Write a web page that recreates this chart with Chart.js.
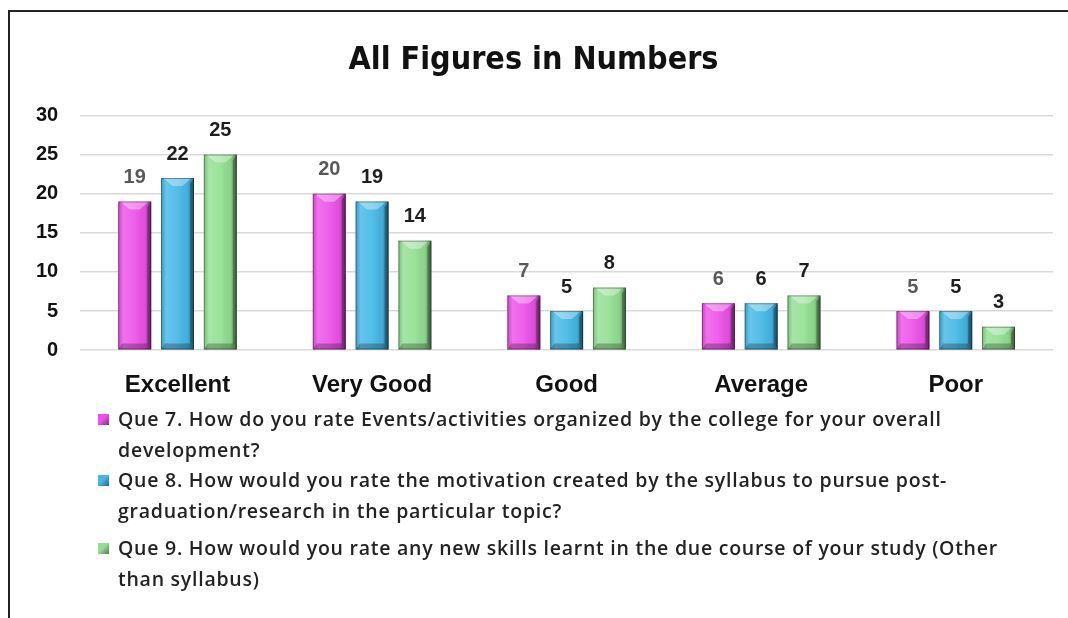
<!DOCTYPE html>
<html>
<head>
<meta charset="utf-8">
<script src="https://cdn.jsdelivr.net/npm/chart.js@4.4.1/dist/chart.umd.min.js"></script>
<style>
  html, body { margin: 0; padding: 0; background: #fff; overflow: hidden; }
  #frame {
    position: absolute; left: 8px; top: 10px; width: 1080px; height: 640px;
    border-top: 2px solid #222; border-left: 2px solid #222;
  }
  #wrap { position: absolute; left: 0; top: 0; width: 1068px; height: 421px; }
  #legend {
    position: absolute; left: 98px; top: 404px; width: 960px;
    font-family: "Open Sans", sans-serif; font-weight: 600; font-size: 19.5px;
    letter-spacing: 0.75px; color: #222; line-height: 30.5px;
  }
  #legend .item { position: relative; padding-left: 20px; white-space: nowrap; }
  #legend .box {
    position: absolute; left: 0; top: 10px; width: 11px; height: 11px;
  }
</style>
</head>
<body>
<div id="frame"></div>
<div id="wrap"><canvas id="chart" width="1068" height="421"></canvas></div>
<div id="legend"></div>
<script>
// ratings and counts per question
const categories = ['Excellent', 'Very Good', 'Good', 'Average', 'Poor'];
const que7 = [19, 20, 7, 6, 5];
const que8 = [22, 19, 5, 6, 5];
const que9 = [25, 14, 8, 7, 3];

const seriesNames = [
    'Que 7. How do you rate Events/activities organized by the college for your overall development?',
    'Que 8. How would you rate the motivation created by the syllabus to pursue post-graduation/research in the particular topic?',
    'Que 9. How would you rate any new skills learnt in the due course of your study (Other than syllabus)'
];
// where each legend entry breaks onto its second line
const legendLines = [
    ['Que 7. How do you rate Events/activities organized by the college for your overall', 'development?'],
    ['Que 8. How would you rate the motivation created by the syllabus to pursue post-', 'graduation/research in the particular topic?'],
    ['Que 9. How would you rate any new skills learnt in the due course of your study (Other', 'than syllabus)']
];
const barColors = ['#ec52e8', '#45b8e6', '#92df92'];
const labelColors = ['#595959', '#1e1e1e', '#1e1e1e'];

// bevelled look on each bar
const bevelPlugin = {
    id: 'bevel',
    afterDatasetsDraw(chart) {
        const ctx = chart.ctx;
        chart.data.datasets.forEach((ds, i) => {
            const meta = chart.getDatasetMeta(i);
            meta.data.forEach((bar) => {
                const l = bar.x - bar.width / 2, r = bar.x + bar.width / 2;
                const t = bar.y, b = bar.base, w = bar.width;
                const h = b - t;
                const bv = Math.min(6, h / 3);
                ctx.save();
                let g = ctx.createLinearGradient(l, 0, r, 0);
                g.addColorStop(0, 'rgba(0,0,0,0.12)');
                g.addColorStop(0.15, 'rgba(255,255,255,0.18)');
                g.addColorStop(0.5, 'rgba(255,255,255,0.08)');
                g.addColorStop(0.8, 'rgba(0,0,0,0.05)');
                g.addColorStop(1, 'rgba(0,0,0,0.38)');
                ctx.fillStyle = g;
                ctx.fillRect(l, t, w, h);
                // top chevron highlight
                ctx.fillStyle = 'rgba(255,255,255,0.35)';
                ctx.beginPath();
                ctx.moveTo(l + 2, t);
                ctx.lineTo(r - 2, t);
                ctx.lineTo(bar.x + 5, t + bv + 2);
                ctx.lineTo(bar.x - 5, t + bv + 2);
                ctx.closePath();
                ctx.fill();
                // right edge shade
                ctx.fillStyle = 'rgba(0,0,0,0.3)';
                ctx.beginPath();
                ctx.moveTo(r, t);
                ctx.lineTo(r - 4, t + bv);
                ctx.lineTo(r - 4, b - bv);
                ctx.lineTo(r, b);
                ctx.closePath();
                ctx.fill();
                // bottom edge shade
                ctx.fillStyle = 'rgba(0,0,0,0.25)';
                ctx.beginPath();
                ctx.moveTo(l, b);
                ctx.lineTo(l + 4, b - bv);
                ctx.lineTo(r - 4, b - bv);
                ctx.lineTo(r, b);
                ctx.closePath();
                ctx.fill();
                ctx.strokeStyle = 'rgba(0,0,0,0.35)';
                ctx.lineWidth = 1;
                ctx.strokeRect(l + 0.5, t + 0.5, w - 1, h - 1);
                ctx.restore();
            });
        });
        // value labels
        ctx.save();
        ctx.font = 'bold 20px "Liberation Sans", Arial, sans-serif';
        ctx.textAlign = 'center';
        ctx.textBaseline = 'middle';
        chart.data.datasets.forEach((ds, i) => {
            ctx.fillStyle = labelColors[i];
            chart.getDatasetMeta(i).data.forEach((bar, j) => {
                ctx.fillText(ds.data[j], bar.x, bar.y - 24);
            });
        });
        ctx.restore();
    }
};

// legend below the canvas, built from the datasets
const htmlLegend = {
    id: 'htmlLegend',
    afterUpdate(chart) {
        const box = document.getElementById('legend');
        box.innerHTML = '';
        chart.data.datasets.forEach((ds, i) => {
            const item = document.createElement('div');
            item.className = 'item';
            if (i === 2) item.style.marginTop = '7px';
            const sw = document.createElement('span');
            sw.className = 'box';
            sw.style.background = 'linear-gradient(135deg, ' + ds.backgroundColor + ' 45%, rgba(0,0,0,0.45) 100%)';
            sw.style.backgroundColor = ds.backgroundColor;
            item.appendChild(sw);
            legendLines[i].forEach((line, k) => {
                if (k > 0) item.appendChild(document.createElement('br'));
                item.appendChild(document.createTextNode(line));
            });
            item.title = ds.label;
            box.appendChild(item);
        });
    }
};

new Chart(document.getElementById('chart').getContext('2d'), {
    type: 'bar',
    data: {
        labels: categories,
        datasets: [
            { label: seriesNames[0], data: que7, backgroundColor: barColors[0] },
            { label: seriesNames[1], data: que8, backgroundColor: barColors[1] },
            { label: seriesNames[2], data: que9, backgroundColor: barColors[2] }
        ]
    },
    options: {
        responsive: false,
        animation: false,
        categoryPercentage: 0.66,
        barPercentage: 0.77,
        layout: { padding: { left: 14, right: 15, top: 0, bottom: 0 } },
        plugins: {
            legend: { display: false },
            tooltip: { enabled: false },
            title: {
                display: true,
                text: 'All Figures in Numbers',
                color: '#111',
                font: { family: '"DejaVu Sans Condensed", "Liberation Sans Narrow", sans-serif', size: 32, weight: 'bold' },
                padding: { top: 41, bottom: 36 }
            }
        },
        scales: {
            x: {
                grid: { display: false, drawTicks: false },
                border: { display: false },
                ticks: {
                    color: '#111',
                    padding: 21,
                    font: { family: '"Liberation Sans", Arial, sans-serif', size: 24, weight: 'bold' }
                }
            },
            y: {
                min: 0,
                max: 30,
                ticks: {
                    stepSize: 5,
                    color: '#111',
                    padding: 22,
                    font: { family: '"Liberation Sans", Arial, sans-serif', size: 20, weight: 'bold' }
                },
                grid: { color: '#d9d9d9', lineWidth: 1.5, drawTicks: false },
                border: { display: false }
            }
        }
    },
    plugins: [bevelPlugin, htmlLegend]
});
</script>
</body>
</html>
